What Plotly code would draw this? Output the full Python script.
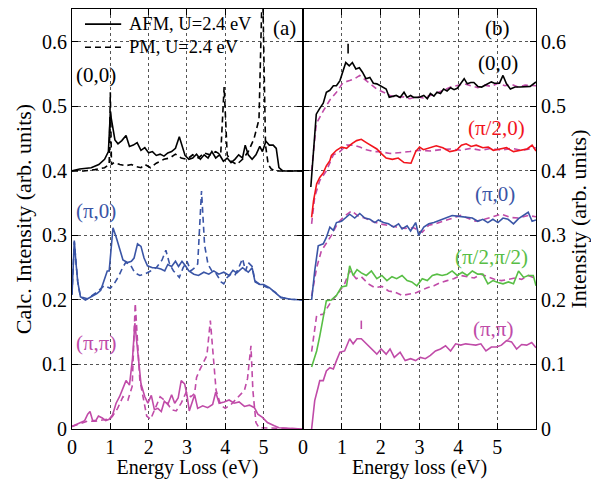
import plotly.graph_objects as go

# ---------------- Panel (a) data ----------------
a00_afm_x = [0, 0.2, 0.5, 0.7, 0.85, 0.95, 1.0, 1.05, 1.12, 1.2, 1.3, 1.41, 1.5, 1.6, 1.7, 1.8, 1.9, 2.0, 2.1, 2.2, 2.3, 2.4, 2.5, 2.6, 2.7, 2.8, 2.87, 2.95, 3.05, 3.15, 3.25, 3.35, 3.45, 3.55, 3.65, 3.75, 3.85, 3.95, 4.05, 4.15, 4.25, 4.35, 4.45, 4.52, 4.6, 4.7, 4.8, 4.9, 4.97, 5.06, 5.15, 5.25, 5.33, 5.4, 5.5, 6.03]
a00_afm_y = [0.400, 0.403, 0.405, 0.41, 0.418, 0.43, 0.49, 0.47, 0.448, 0.442, 0.447, 0.455, 0.438, 0.44, 0.444, 0.432, 0.436, 0.428, 0.43, 0.424, 0.426, 0.423, 0.428, 0.43, 0.435, 0.453, 0.44, 0.424, 0.418, 0.42, 0.426, 0.418, 0.425, 0.42, 0.43, 0.42, 0.425, 0.415, 0.42, 0.413, 0.418, 0.425, 0.42, 0.44, 0.425, 0.418, 0.425, 0.438, 0.43, 0.446, 0.44, 0.44, 0.435, 0.405, 0.4, 0.4]

a00_pm_x = [0, 0.3, 0.6, 0.85, 0.97, 1.0, 1.03, 1.1, 1.25, 1.4, 1.55, 1.65, 1.8, 1.9, 2.05, 2.2, 2.4, 2.55, 2.7, 2.85, 3.0, 3.15, 3.3, 3.45, 3.6, 3.75, 3.88, 3.97, 4.05, 4.15, 4.3, 4.45, 4.6, 4.75, 4.88, 4.97, 5.05, 5.12, 5.2, 5.3, 6.03]
a00_pm_y = [0.4, 0.4, 0.402, 0.405, 0.41, 0.522, 0.41, 0.413, 0.41, 0.408, 0.41, 0.407, 0.405, 0.41, 0.405, 0.412, 0.418, 0.42, 0.426, 0.42, 0.418, 0.425, 0.42, 0.428, 0.425, 0.43, 0.425, 0.53, 0.425, 0.415, 0.41, 0.418, 0.43, 0.45, 0.48, 0.70, 0.44, 0.41, 0.403, 0.4, 0.4]

api0_afm_x = [0, 0.06, 0.1, 0.15, 0.22, 0.35, 0.5, 0.65, 0.75, 0.85, 0.92, 0.97, 1.02, 1.07, 1.15, 1.25, 1.33, 1.45, 1.55, 1.62, 1.71, 1.8, 1.88, 1.97, 2.1, 2.2, 2.32, 2.42, 2.5, 2.6, 2.7, 2.78, 2.87, 2.96, 3.05, 3.18, 3.3, 3.44, 3.57, 3.7, 3.83, 3.96, 4.1, 4.2, 4.3, 4.45, 4.6, 4.7, 4.77, 4.9, 5.0, 5.15, 5.3, 5.45, 5.7, 6.03]
api0_afm_y = [0.208, 0.292, 0.26, 0.228, 0.205, 0.2, 0.205, 0.21, 0.215, 0.235, 0.245, 0.245, 0.28, 0.312, 0.298, 0.28, 0.262, 0.258, 0.26, 0.265, 0.287, 0.283, 0.265, 0.253, 0.25, 0.25, 0.248, 0.245, 0.255, 0.252, 0.26, 0.252, 0.26, 0.253, 0.245, 0.24, 0.238, 0.243, 0.24, 0.245, 0.24, 0.243, 0.238, 0.246, 0.242, 0.25, 0.243, 0.25, 0.23, 0.224, 0.224, 0.219, 0.212, 0.204, 0.201, 0.2]

api0_pm_x = [0, 0.06, 0.15, 0.22, 0.4, 0.6, 0.84, 1.0, 1.1, 1.22, 1.32, 1.4, 1.52, 1.64, 1.77, 1.9, 2.05, 2.2, 2.35, 2.45, 2.55, 2.65, 2.8, 2.9, 3.0, 3.1, 3.2, 3.28, 3.38, 3.46, 3.55, 3.65, 3.75, 3.89, 3.96, 4.05, 4.15, 4.25, 4.35, 4.45, 4.53, 4.6, 4.7, 4.78, 4.9, 5.0, 5.15, 5.3, 5.45, 5.7, 6.03]
api0_pm_y = [0.208, 0.29, 0.228, 0.205, 0.202, 0.21, 0.222, 0.218, 0.225, 0.237, 0.25, 0.258, 0.255, 0.242, 0.238, 0.24, 0.245, 0.25, 0.262, 0.277, 0.255, 0.245, 0.235, 0.25, 0.26, 0.245, 0.25, 0.256, 0.369, 0.285, 0.255, 0.245, 0.242, 0.228, 0.225, 0.235, 0.24, 0.238, 0.25, 0.264, 0.245, 0.258, 0.252, 0.228, 0.224, 0.222, 0.218, 0.212, 0.204, 0.201, 0.2]

apipi_afm_x = [0, 0.2, 0.33, 0.41, 0.47, 0.54, 0.62, 0.69, 0.79, 0.88, 0.97, 1.06, 1.15, 1.24, 1.33, 1.41, 1.5, 1.58, 1.64, 1.72, 1.8, 1.9, 1.98, 2.07, 2.15, 2.24, 2.33, 2.41, 2.5, 2.6, 2.68, 2.77, 2.85, 2.94, 3.0, 3.06, 3.2, 3.28, 3.41, 3.54, 3.67, 3.75, 3.84, 3.97, 4.1, 4.23, 4.36, 4.5, 4.63, 4.76, 4.85, 4.97, 5.1, 5.28, 5.4, 6.03]
apipi_afm_y = [0.004, 0.01, 0.013, 0.023, 0.027, 0.013, 0.013, 0.02, 0.017, 0.013, 0.015, 0.022, 0.04, 0.05, 0.065, 0.075, 0.068, 0.11, 0.164, 0.12, 0.07, 0.05, 0.04, 0.052, 0.03, 0.032, 0.027, 0.043, 0.038, 0.053, 0.04, 0.048, 0.075, 0.07, 0.053, 0.028, 0.053, 0.032, 0.036, 0.033, 0.038, 0.057, 0.04, 0.042, 0.045, 0.04, 0.042, 0.035, 0.037, 0.033, 0.023, 0.018, 0.01, 0.005, 0.002, 0.0]

apipi_pm_x = [0, 0.2, 0.4, 0.6, 0.8, 1.0, 1.06, 1.19, 1.33, 1.46, 1.57, 1.65, 1.77, 1.85, 1.95, 2.05, 2.15, 2.3, 2.45, 2.6, 2.72, 2.85, 2.98, 3.1, 3.2, 3.25, 3.32, 3.45, 3.52, 3.61, 3.7, 3.76, 3.88, 4.0, 4.15, 4.35, 4.5, 4.58, 4.67, 4.72, 4.8, 4.88, 6.03]
apipi_pm_y = [0.004, 0.008, 0.012, 0.012, 0.014, 0.016, 0.02, 0.032, 0.05, 0.045, 0.066, 0.195, 0.076, 0.05, 0.02, 0.015, 0.03, 0.05, 0.043, 0.03, 0.028, 0.04, 0.057, 0.05, 0.055, 0.08, 0.09, 0.107, 0.114, 0.168, 0.1, 0.06, 0.037, 0.032, 0.038, 0.05, 0.06, 0.078, 0.129, 0.06, 0.01, 0.002, 0.0]

# ---------------- Panel (b) data ----------------
b00_x = [0.2, 0.34, 0.43, 0.52, 0.6, 0.69, 0.78, 0.86, 0.95, 1.03, 1.1, 1.19, 1.27, 1.36, 1.45, 1.53, 1.62, 1.72, 1.81, 1.9, 2.03, 2.14, 2.22, 2.31, 2.4, 2.5, 2.6, 2.68, 2.77, 2.85, 2.98, 3.11, 3.2, 3.28, 3.37, 3.45, 3.54, 3.62, 3.71, 3.8, 3.89, 3.97, 4.15, 4.23, 4.32, 4.4, 4.5, 4.6, 4.72, 4.85, 4.93, 5.06, 5.15, 5.24, 5.34, 5.46, 5.59, 5.72, 5.85, 6.0]
b00_y = [0.375, 0.488, 0.497, 0.505, 0.522, 0.525, 0.532, 0.532, 0.54, 0.556, 0.568, 0.563, 0.568, 0.558, 0.56, 0.553, 0.543, 0.545, 0.536, 0.535, 0.531, 0.527, 0.514, 0.515, 0.517, 0.514, 0.522, 0.514, 0.517, 0.514, 0.514, 0.517, 0.512, 0.52, 0.516, 0.522, 0.52, 0.527, 0.524, 0.529, 0.526, 0.528, 0.543, 0.535, 0.537, 0.537, 0.531, 0.53, 0.534, 0.538, 0.536, 0.536, 0.548, 0.535, 0.527, 0.53, 0.53, 0.531, 0.531, 0.538]
b00_pm_x = [0.22, 0.34, 0.52, 0.69, 0.86, 1.03, 1.2, 1.33, 1.46, 1.63, 1.76, 1.9, 2.07, 2.24, 2.4, 2.58, 2.75, 2.93, 3.1, 3.28, 3.45, 3.62, 3.8, 3.97, 4.15, 4.32, 4.5, 4.67, 4.85, 5.02, 5.2, 5.37, 5.54, 5.72, 6.0]
b00_pm_y = [0.40, 0.473, 0.493, 0.51, 0.522, 0.537, 0.54, 0.543, 0.548, 0.54, 0.535, 0.527, 0.522, 0.517, 0.514, 0.515, 0.512, 0.515, 0.513, 0.517, 0.52, 0.525, 0.53, 0.533, 0.535, 0.532, 0.529, 0.533, 0.531, 0.536, 0.532, 0.534, 0.53, 0.533, 0.532]

bpi20_x = [0.22, 0.27, 0.35, 0.43, 0.52, 0.6, 0.69, 0.73, 0.86, 0.99, 1.12, 1.25, 1.38, 1.5, 1.63, 1.76, 1.9, 2.03, 2.14, 2.3, 2.45, 2.6, 2.78, 2.9, 3.0, 3.1, 3.26, 3.43, 3.6, 3.78, 3.95, 4.08, 4.2, 4.33, 4.46, 4.63, 4.77, 4.9, 5.07, 5.24, 5.42, 5.6, 5.77, 5.9, 6.0]
bpi20_y = [0.328, 0.354, 0.38, 0.39, 0.397, 0.408, 0.416, 0.424, 0.432, 0.437, 0.435, 0.442, 0.447, 0.449, 0.444, 0.439, 0.434, 0.426, 0.42, 0.418, 0.42, 0.413, 0.412, 0.43, 0.437, 0.433, 0.436, 0.439, 0.436, 0.43, 0.432, 0.44, 0.442, 0.438, 0.44, 0.436, 0.437, 0.432, 0.434, 0.436, 0.43, 0.432, 0.434, 0.44, 0.431]
bpi20_pm_x = [0.22, 0.3, 0.43, 0.6, 0.78, 0.95, 1.12, 1.3, 1.46, 1.63, 1.81, 1.98, 2.24, 2.5, 2.75, 3.0, 3.28, 3.55, 3.8, 4.06, 4.32, 4.58, 4.85, 5.11, 5.37, 5.63, 6.0]
bpi20_pm_y = [0.318, 0.36, 0.385, 0.4, 0.425, 0.43, 0.44, 0.44, 0.437, 0.433, 0.43, 0.43, 0.427, 0.428, 0.43, 0.432, 0.431, 0.433, 0.434, 0.432, 0.435, 0.432, 0.435, 0.432, 0.435, 0.432, 0.436]

bpi0_x = [0.22, 0.3, 0.39, 0.52, 0.6, 0.69, 0.78, 0.86, 0.99, 1.12, 1.2, 1.33, 1.46, 1.59, 1.72, 1.85, 1.94, 2.07, 2.2, 2.33, 2.46, 2.55, 2.68, 2.77, 2.9, 2.98, 3.11, 3.24, 3.37, 3.54, 3.67, 3.84, 3.97, 4.1, 4.23, 4.36, 4.5, 4.63, 4.76, 4.89, 5.02, 5.15, 5.28, 5.42, 5.55, 5.68, 5.8, 5.9, 6.0]
bpi0_y = [0.2, 0.245, 0.284, 0.287, 0.297, 0.313, 0.308, 0.32, 0.322, 0.328, 0.333, 0.327, 0.334, 0.327, 0.325, 0.32, 0.324, 0.32, 0.318, 0.313, 0.318, 0.31, 0.315, 0.307, 0.32, 0.3, 0.313, 0.318, 0.32, 0.324, 0.327, 0.331, 0.33, 0.329, 0.328, 0.327, 0.322, 0.325, 0.32, 0.325, 0.32, 0.327, 0.325, 0.318, 0.326, 0.331, 0.336, 0.322, 0.324]
bpi0_pm_x = [0.22, 0.35, 0.47, 0.6, 0.73, 0.9, 1.07, 1.25, 1.42, 1.59, 1.76, 1.98, 2.2, 2.41, 2.63, 2.85, 3.07, 3.24, 3.41, 3.62, 3.84, 4.06, 4.23, 4.45, 4.67, 4.89, 5.11, 5.33, 5.55, 5.8, 6.0]
bpi0_pm_y = [0.206, 0.25, 0.276, 0.287, 0.3, 0.32, 0.33, 0.338, 0.33, 0.327, 0.322, 0.318, 0.315, 0.313, 0.311, 0.312, 0.305, 0.316, 0.318, 0.322, 0.327, 0.331, 0.327, 0.322, 0.325, 0.329, 0.333, 0.328, 0.327, 0.331, 0.329]

bpipi2_x = [0.22, 0.35, 0.43, 0.52, 0.6, 0.73, 0.86, 0.99, 1.12, 1.2, 1.29, 1.39, 1.5, 1.63, 1.76, 1.9, 2.03, 2.16, 2.29, 2.41, 2.55, 2.68, 2.8, 2.93, 3.07, 3.2, 3.33, 3.45, 3.58, 3.71, 3.84, 3.97, 4.1, 4.23, 4.36, 4.5, 4.63, 4.76, 4.89, 5.02, 5.15, 5.29, 5.42, 5.55, 5.68, 5.8, 5.93, 6.0]
bpipi2_y = [0.096, 0.121, 0.144, 0.173, 0.199, 0.2, 0.207, 0.22, 0.222, 0.253, 0.238, 0.247, 0.242, 0.238, 0.245, 0.233, 0.238, 0.23, 0.236, 0.233, 0.238, 0.23, 0.228, 0.222, 0.233, 0.23, 0.238, 0.24, 0.238, 0.24, 0.245, 0.238, 0.243, 0.238, 0.245, 0.24, 0.24, 0.225, 0.23, 0.227, 0.225, 0.228, 0.225, 0.245, 0.235, 0.238, 0.238, 0.222]
bpipi2_pm_x = [0.22, 0.35, 0.52, 0.73, 0.9, 1.07, 1.2, 1.37, 1.5, 1.68, 1.85, 2.03, 2.2, 2.37, 2.55, 2.73, 2.9, 3.05, 3.2, 3.37, 3.54, 3.71, 3.88, 4.06, 4.23, 4.41, 4.58, 4.76, 4.93, 5.11, 5.28, 5.46, 5.63, 5.8, 6.0]
bpipi2_pm_y = [0.12, 0.176, 0.178, 0.198, 0.21, 0.225, 0.245, 0.233, 0.236, 0.225, 0.219, 0.221, 0.214, 0.212, 0.207, 0.209, 0.211, 0.215, 0.219, 0.222, 0.227, 0.23, 0.233, 0.238, 0.236, 0.234, 0.24, 0.236, 0.232, 0.23, 0.232, 0.234, 0.232, 0.238, 0.233]

bpipi_x = [0.22, 0.3, 0.39, 0.43, 0.52, 0.6, 0.69, 0.78, 0.86, 0.95, 1.07, 1.2, 1.29, 1.39, 1.5, 1.63, 1.76, 1.9, 2.01, 2.14, 2.24, 2.35, 2.5, 2.63, 2.77, 2.9, 3.02, 3.15, 3.28, 3.41, 3.54, 3.67, 3.8, 3.93, 4.06, 4.19, 4.32, 4.45, 4.58, 4.71, 4.85, 4.98, 5.11, 5.24, 5.37, 5.5, 5.63, 5.76, 5.89, 6.0]
bpipi_y = [0.0, 0.044, 0.065, 0.075, 0.075, 0.09, 0.095, 0.093, 0.106, 0.119, 0.121, 0.14, 0.132, 0.14, 0.14, 0.132, 0.124, 0.116, 0.124, 0.116, 0.124, 0.111, 0.119, 0.106, 0.109, 0.106, 0.111, 0.109, 0.114, 0.121, 0.124, 0.129, 0.121, 0.132, 0.13, 0.132, 0.131, 0.13, 0.132, 0.121, 0.127, 0.127, 0.13, 0.137, 0.135, 0.124, 0.131, 0.13, 0.134, 0.126]

# short peak markers (panel b): x, y-start, y-end
mark_x = [1.16, 1.5]
mark_y0 = [0.582, 0.155]
mark_y1 = [0.597, 0.168]

x_ticks = [0, 1, 2, 3, 4, 5]
y_ticks = [0, 0.1, 0.2, 0.3, 0.4, 0.5, 0.6]
legend_names = ["AFM, U=2.4 eV", "PM, U=2.4 eV"]

BLACK = "#000000"
BLUE = "#3A55A6"
MAG = "#C04BA8"
RED = "#F2141C"
GREEN = "#58BE45"
FONT = "Liberation Serif, Times New Roman, DejaVu Serif, serif"
LW = 1.6
DASH = "6px,4px"

mark_colors = [BLACK, MAG]

fig = go.Figure()

def add(x, y, color, dash=None, xa="x", ya="y", name=None):
    fig.add_trace(go.Scatter(
        x=x, y=y, mode="lines", xaxis=xa, yaxis=ya,
        line=dict(color=color, width=LW, dash=dash if dash else "solid"),
        name=name, showlegend=False, hoverinfo="skip"))

# panel (a)
add(a00_afm_x, a00_afm_y, BLACK, name=legend_names[0])
add(a00_pm_x, a00_pm_y, BLACK, DASH, name=legend_names[1])
add(api0_pm_x, api0_pm_y, BLUE, DASH)
add(api0_afm_x, api0_afm_y, BLUE)
add(apipi_pm_x, apipi_pm_y, MAG, DASH)
add(apipi_afm_x, apipi_afm_y, MAG)

# panel (b)
add(b00_pm_x, b00_pm_y, MAG, DASH, "x2", "y2")
add(b00_x, b00_y, BLACK, None, "x2", "y2")
add(bpi20_pm_x, bpi20_pm_y, MAG, DASH, "x2", "y2")
add(bpi20_x, bpi20_y, RED, None, "x2", "y2")
add(bpi0_pm_x, bpi0_pm_y, MAG, DASH, "x2", "y2")
add(bpi0_x, bpi0_y, BLUE, None, "x2", "y2")
add(bpipi2_pm_x, bpipi2_pm_y, MAG, DASH, "x2", "y2")
add(bpipi2_x, bpipi2_y, GREEN, None, "x2", "y2")
add(bpipi_x, bpipi_y, MAG, None, "x2", "y2")

for mx, my0, my1, mc in zip(mark_x, mark_y0, mark_y1, mark_colors):
    fig.add_shape(type="line", xref="x2", yref="y2", x0=mx, x1=mx, y0=my0, y1=my1,
                  line=dict(color=mc, width=LW))

# manual legend (panel a, upper left)
leg_rows = [(0.964, "solid"), (0.909, DASH)]
for name, (ly, dsh) in zip(legend_names, leg_rows):
    fig.add_shape(type="line", xref="paper", yref="paper", x0=0.028, x1=0.106, y0=ly, y1=ly,
                  line=dict(color=BLACK, width=LW, dash=dsh))
    fig.add_annotation(xref="paper", yref="paper", x=0.1185, y=ly, xanchor="left", yanchor="middle",
                       text=name, showarrow=False, font=dict(family=FONT, size=18.5, color=BLACK))

TICKF = dict(family=FONT, size=20, color="black")
ax_common = dict(showline=True, linecolor="black", linewidth=1.2, mirror="ticks",
                 ticks="inside", ticklen=6, tickwidth=1, tickcolor="black",
                 showgrid=True, gridcolor="#555555", griddash="dot", gridwidth=1,
                 zeroline=False, tickfont=TICKF)

split = 0.498
fig.update_layout(
    width=591, height=471,
    margin=dict(l=64, r=63, t=1, b=50, autoexpand=False),
    paper_bgcolor="white", plot_bgcolor="white",
    font=dict(family=FONT, size=20, color="black"),
    showlegend=False,
    xaxis=dict(domain=[0, split], range=[0, 6.03], tickvals=x_ticks,
               title=dict(text="Energy Loss (eV)", font=dict(family=FONT, size=20), standoff=4),
               anchor="y", **ax_common),
    yaxis=dict(domain=[0, 1], range=[0, 0.651], tickvals=y_ticks,
               title=dict(text="Calc. Intensity (arb. units)", font=dict(family=FONT, size=22), standoff=4),
               anchor="x", **ax_common),
    xaxis2=dict(domain=[split, 1], range=[0, 6.0], tickvals=x_ticks,
                title=dict(text="Energy loss (eV)", font=dict(family=FONT, size=20), standoff=4),
                anchor="y2", **ax_common),
    yaxis2=dict(domain=[0, 1], range=[0, 0.651], tickvals=y_ticks, side="right",
                title=dict(text="Intensity (arb. units)", font=dict(family=FONT, size=22), standoff=4),
                anchor="x2", **ax_common),
)

labels = [
    ("x", "y", 0.63, 0.548, "(0,0)", BLACK),
    ("x", "y", 0.63, 0.338, "(\u03c0,0)", BLUE),
    ("x", "y", 0.63, 0.134, "(\u03c0,\u03c0)", MAG),
    ("x", "y", 5.54, 0.622, "(a)", BLACK),
    ("x2", "y2", 5.02, 0.622, "(b)", BLACK),
    ("x2", "y2", 5.02, 0.568, "(0,0)", BLACK),
    ("x2", "y2", 4.99, 0.467, "(\u03c0/2,0)", RED),
    ("x2", "y2", 4.94, 0.365, "(\u03c0,0)", BLUE),
    ("x2", "y2", 4.86, 0.266, "(\u03c0/2,\u03c0/2)", GREEN),
    ("x2", "y2", 4.89, 0.155, "(\u03c0,\u03c0)", MAG),
]
for xr, yr, lx, ly, txt, col in labels:
    fig.add_annotation(xref=xr, yref=yr, x=lx, y=ly, text=txt, showarrow=False,
                       font=dict(family=FONT, size=21, color=col))

fig.write_html("out.html")
